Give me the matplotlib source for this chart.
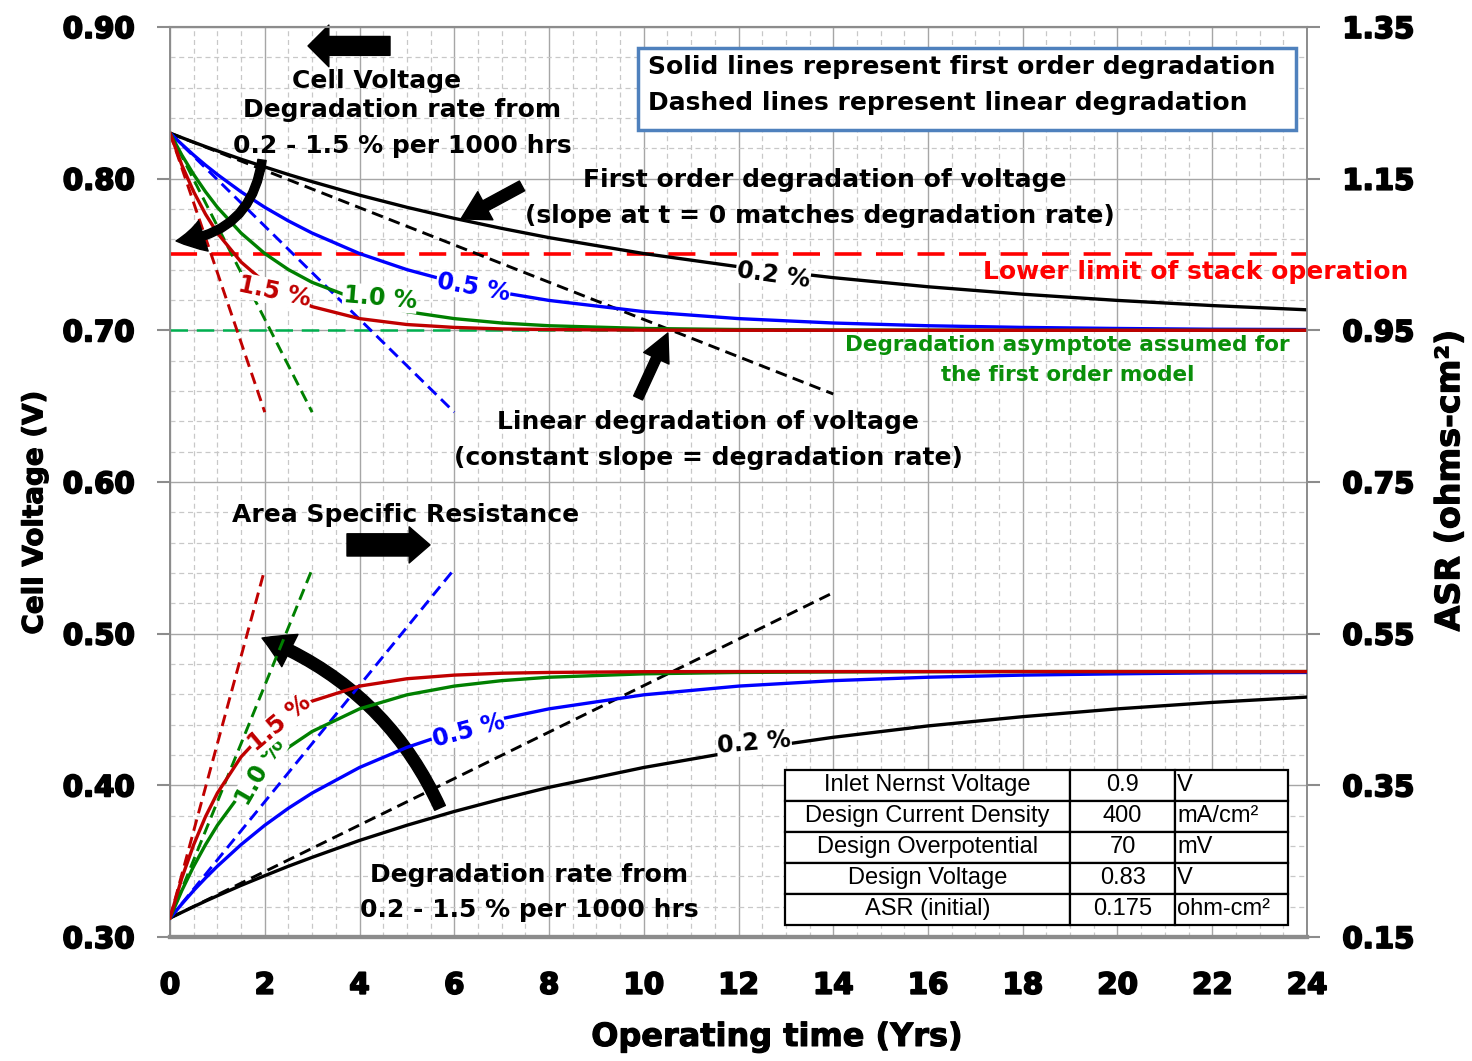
import matplotlib
matplotlib.use('Agg')
import matplotlib.pyplot as plt
import matplotlib.patheffects as pe
from matplotlib.patches import Rectangle
from matplotlib.table import Table
from matplotlib.ticker import MultipleLocator

plt.rcParams['font.family'] = ['DejaVu Sans']

# operating time (years) at which the first order curves were read
years = [0, 0.25, 0.5, 0.75, 1, 1.5, 2, 2.5, 3, 4, 5, 6, 7, 8, 10, 12, 14, 16, 18, 20, 22, 24]

# cell voltage (V), first order degradation
volt_02 = [0.830, 0.8270, 0.8240, 0.8211, 0.8183, 0.8128, 0.8077, 0.8027, 0.7980, 0.7891, 0.7811,
           0.7738, 0.7672, 0.7611, 0.7506, 0.7419, 0.7347, 0.7287, 0.7238, 0.7197, 0.7163, 0.7135]
volt_05 = [0.830, 0.8226, 0.8155, 0.8089, 0.8027, 0.7913, 0.7811, 0.7721, 0.7641, 0.7506, 0.7400,
           0.7316, 0.7249, 0.7197, 0.7123, 0.7077, 0.7048, 0.7030, 0.7019, 0.7012, 0.7007, 0.7005]
volt_10 = [0.830, 0.8155, 0.8027, 0.7913, 0.7811, 0.7641, 0.7506, 0.7400, 0.7316, 0.7197, 0.7123,
           0.7077, 0.7048, 0.7030, 0.7012, 0.7005, 0.7002, 0.7001, 0.700, 0.700, 0.700, 0.700]
volt_15 = [0.830, 0.8089, 0.7913, 0.7765, 0.7641, 0.7450, 0.7316, 0.7222, 0.7156, 0.7077, 0.7038,
           0.7019, 0.7009, 0.7005, 0.7001, 0.700, 0.700, 0.700, 0.700, 0.700, 0.700, 0.700]

# ASR (ohm-cm2), first order degradation
asr_02 = [0.175, 0.1825, 0.190, 0.1973, 0.2043, 0.218, 0.2308, 0.2433, 0.255, 0.2773, 0.2973,
          0.3155, 0.332, 0.3473, 0.3735, 0.3953, 0.4133, 0.4283, 0.4405, 0.4508, 0.4593, 0.4663]
asr_05 = [0.175, 0.1935, 0.2113, 0.2278, 0.2433, 0.2718, 0.2973, 0.3198, 0.3398, 0.3735, 0.400,
          0.421, 0.4378, 0.4508, 0.4693, 0.4808, 0.488, 0.4925, 0.4953, 0.497, 0.4983, 0.4988]
asr_10 = [0.175, 0.2113, 0.2433, 0.2718, 0.2973, 0.3398, 0.3735, 0.400, 0.421, 0.4508, 0.4693,
          0.4808, 0.488, 0.4925, 0.497, 0.4988, 0.4995, 0.4998, 0.500, 0.500, 0.500, 0.500]
asr_15 = [0.175, 0.2278, 0.2718, 0.3088, 0.3398, 0.3875, 0.421, 0.4445, 0.461, 0.4808, 0.4905,
          0.4953, 0.4978, 0.4988, 0.4998, 0.500, 0.500, 0.500, 0.500, 0.500, 0.500, 0.500]

# linear degradation: straight lines from the design point to these end points
rate_labels = ['0.2 %', '0.5 %', '1.0 %', '1.5 %']
lin_start_volt = 0.83
lin_start_asr = 0.175
lin_end_years = [14, 6, 3, 2]
lin_end_volt = [0.658, 0.646, 0.646, 0.646]
lin_end_asr = [0.604, 0.635, 0.635, 0.635]

lower_limit_volt = 0.75
asymptote_volt = 0.70

x_ticks = [0, 2, 4, 6, 8, 10, 12, 14, 16, 18, 20, 22, 24]
volt_ticks = [0.30, 0.40, 0.50, 0.60, 0.70, 0.80, 0.90]
asr_ticks = [0.15, 0.35, 0.55, 0.75, 0.95, 1.15, 1.35]

table_params = ['Inlet Nernst Voltage', 'Design Current Density', 'Design Overpotential',
                'Design Voltage', 'ASR (initial)']
table_values = ['0.9', '400', '70', '0.83', '0.175']
table_units = ['V', 'mA/cm²', 'mV', 'V', 'ohm-cm²']

colors = ['#000000', '#0000FF', '#008000', '#C00000']
volt_curves = [volt_02, volt_05, volt_10, volt_15]
asr_curves = [asr_02, asr_05, asr_10, asr_15]

fig = plt.figure(figsize=(14.72, 10.61), dpi=100)
ax = fig.add_axes([0.1155, 0.1169, 0.7724, 0.8577])
ax2 = ax.twinx()

ax.set_xlim(0, 24)
ax.set_ylim(0.30, 0.90)
ax2.set_ylim(0.15, 1.35)

bold_tick = dict(fontweight='bold', fontsize=21,
                 path_effects=[pe.withStroke(linewidth=1.4, foreground='black')])
ax.set_xticks(x_ticks, labels=[str(v) for v in x_ticks], **bold_tick)
ax.set_yticks(volt_ticks, labels=['%.2f' % v for v in volt_ticks], **bold_tick)
ax2.set_yticks(asr_ticks, labels=['%.2f' % v for v in asr_ticks], **bold_tick)
ax.xaxis.set_minor_locator(MultipleLocator(0.5))
ax.yaxis.set_minor_locator(MultipleLocator(0.02))

ax.grid(which='major', color='#A6A6A6', lw=1.0, ls='-')
ax.grid(which='minor', color='#C8C8C8', lw=0.9, ls=(0, (4, 3)))
ax.set_axisbelow(True)

ax.tick_params(axis='y', which='major', direction='out', length=9.5, width=1.5,
               color='#8C8C8C', pad=16)
ax.tick_params(axis='y', which='minor', length=0)
ax.tick_params(axis='x', which='both', length=0, pad=25)
ax2.tick_params(axis='y', which='major', direction='out', length=9.5, width=1.5,
                color='#8C8C8C', pad=16)
for a in (ax, ax2):
    for s in a.spines.values():
        s.set_color('#8C8C8C')
        s.set_linewidth(1.2)
    a.spines['bottom'].set_linewidth(3)
    a.spines['top'].set_linewidth(1.5)

ax.set_ylabel('Cell Voltage (V)', fontsize=20, fontweight='bold',
              path_effects=[pe.withStroke(linewidth=0.8, foreground='black')])
ax.yaxis.set_label_coords(-0.107, 0.4665)
ax2.set_ylabel('ASR (ohms-cm²)', fontsize=24, fontweight='bold',
               path_effects=[pe.withStroke(linewidth=0.8, foreground='black')])
ax2.yaxis.set_label_coords(1.111, 0.5016)
ax.set_xlabel('Operating time (Yrs)', fontsize=23, fontweight='bold',
              path_effects=[pe.withStroke(linewidth=0.8, foreground='black')])
ax.xaxis.set_label_coords(0.534, -0.0934)

# reference lines
ax.axhline(lower_limit_volt, color='#FF0000', lw=2.6, ls=(0, (7.5, 4)), zorder=2)
ax.axhline(asymptote_volt, color='#00B050', lw=1.8, ls=(0, (7, 3.5)), zorder=2)

# curves
for i in range(4):
    ax.plot(years, volt_curves[i], color=colors[i], lw=2.4, zorder=3)
    ax.plot([0, lin_end_years[i]], [lin_start_volt, lin_end_volt[i]], color=colors[i],
            lw=2.1, ls=(0, (4, 2.2)), zorder=3)
    ax2.plot(years, asr_curves[i], color=colors[i], lw=2.4, zorder=3)
    ax2.plot([0, lin_end_years[i]], [lin_start_asr, lin_end_asr[i]], color=colors[i],
             lw=2.1, ls=(0, (4, 2.2)), zorder=3)

# curve labels
lab = dict(fontsize=17, fontweight='bold', ha='center', va='center', rotation_mode='anchor',
           bbox=dict(facecolor='white', edgecolor='none', pad=0.5), zorder=4)
ax.text(12.73, 0.7365, rate_labels[0], color=colors[0], rotation=-8, **lab)
ax.text(6.40, 0.7280, rate_labels[1], color=colors[1], rotation=-10, **lab)
ax.text(4.43, 0.7213, rate_labels[2], color=colors[2], rotation=-5, **lab)
ax.text(2.20, 0.7253, rate_labels[3], color=colors[3], rotation=-12, **lab)
ax2.text(12.33, 0.406, rate_labels[0], color=colors[0], rotation=5, **lab)
ax2.text(6.30, 0.4216, rate_labels[1], color=colors[1], rotation=15, **lab)
ax2.text(1.90, 0.3676, rate_labels[2], color=colors[2], rotation=60, **lab)
ax2.text(2.32, 0.4324, rate_labels[3], color=colors[3], rotation=40, **lab)

# annotation texts
txt = dict(fontsize=18, fontweight='bold', ha='center', va='center', zorder=5)
ax.text(4.35, 0.8644, 'Cell Voltage', **txt)
ax.text(4.90, 0.8453, 'Degradation rate from', **txt)
ax.text(4.90, 0.8215, '0.2 - 1.5 % per 1000 hrs', **txt)
ax.text(13.83, 0.7991, 'First order degradation of voltage', **txt)
ax.text(13.72, 0.7754, '(slope at t = 0 matches degradation rate)', **txt)
ax.text(11.36, 0.6396, 'Linear degradation of voltage', **txt)
ax.text(11.36, 0.6158, '(constant slope = degradation rate)', **txt)
ax.text(4.98, 0.5783, 'Area Specific Resistance', **txt)
ax.text(7.58, 0.3409, 'Degradation rate from', **txt)
ax.text(7.58, 0.3178, '0.2 - 1.5 % per 1000 hrs', **txt)
ax.text(17.16, 0.7385, 'Lower limit of stack operation', color='#FF0000', fontsize=18,
        fontweight='bold', ha='left', va='center', zorder=5)
ax.text(18.95, 0.6903, 'Degradation asymptote assumed for', color='#0A8F0A', fontsize=15.5,
        fontweight='bold', ha='center', va='center', zorder=5)
ax.text(18.95, 0.6706, 'the first order model', color='#0A8F0A', fontsize=15.5,
        fontweight='bold', ha='center', va='center', zorder=5)

# note box
ax.add_patch(Rectangle((9.88, 0.8321), 23.77 - 9.88, 0.8862 - 0.8321, facecolor='white',
                       edgecolor='#4F81BD', lw=2.5, zorder=4))
ax.text(10.09, 0.8736, 'Solid lines represent first order degradation', fontsize=18,
        fontweight='bold', ha='left', va='center', zorder=5)
ax.text(10.09, 0.8499, 'Dashed lines represent linear degradation', fontsize=18,
        fontweight='bold', ha='left', va='center', zorder=5)

# arrows
def arrow(tail, tip, style, rad=0.0, ms=20):
    ax.annotate('', xy=tip, xytext=tail, zorder=6,
                arrowprops=dict(arrowstyle=style, color='black', mutation_scale=ms,
                                shrinkA=0, shrinkB=0,
                                connectionstyle='arc3,rad=%s' % rad))

arrow((4.644, 0.8875), (2.913, 0.8875), 'simple,head_length=0.75,head_width=1.5,tail_width=0.68')
arrow((3.736, 0.5585), (5.488, 0.5585), 'simple,head_length=0.75,head_width=1.3,tail_width=0.8')
arrow((7.43, 0.7952), (6.14, 0.7734), 'simple,head_length=1.0,head_width=1.15,tail_width=0.4')
arrow((9.88, 0.6554), (10.51, 0.6982), 'simple,head_length=1.0,head_width=1.0,tail_width=0.35')
arrow((1.942, 0.8123), (0.127, 0.7589), 'simple,head_length=1.0,head_width=1.15,tail_width=0.3',
      rad=-0.4)
arrow((5.70, 0.3851), (1.942, 0.4971), 'simple,head_length=1.1,head_width=1.3,tail_width=0.42',
      rad=0.2)

# design parameter table
tbl = Table(ax, bbox=[0.541, 0.0133, 0.442, 0.1704])
col_w = [0.567, 0.209, 0.224]
for r in range(len(table_params)):
    row = [table_params[r], table_values[r], table_units[r]]
    for c in range(3):
        cell = tbl.add_cell(r, c, width=col_w[c], height=0.2, text=row[c],
                            loc='left' if c == 2 else 'center',
                            facecolor='white', edgecolor='black')
        cell.set_linewidth(1.6)
        cell.get_text().set_fontsize(17)
        cell.get_text().set_fontfamily('Liberation Sans')
        if c == 2:
            cell.PAD = 0.02
tbl.auto_set_font_size(False)
tbl.set_zorder(5)
ax.add_table(tbl)

fig.savefig('out.png', dpi=100)
